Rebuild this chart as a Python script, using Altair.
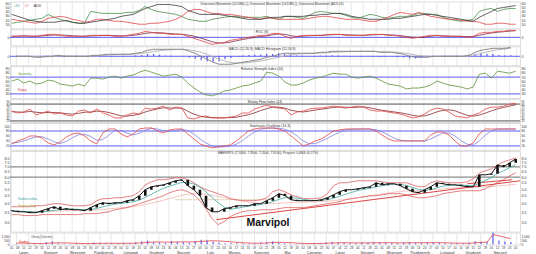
import altair as alt
import pandas as pd

FONT = "Liberation Sans"
W = 512

weeks = pd.date_range("2013-07-01", periods=84, freq="7D")

close = [3.60,3.54,3.54,3.49,3.49,3.60,3.71,3.82,3.65,3.71,
         3.65,3.65,3.60,3.77,3.94,4.06,4.00,4.06,4.06,4.19,
         4.25,4.52,4.95,5.18,5.26,5.33,5.50,5.67,5.76,5.26,
         4.95,4.52,3.77,3.54,3.54,3.71,3.77,3.88,3.88,3.88,
         4.00,4.00,4.19,4.38,4.66,4.52,4.25,4.19,4.19,4.19,
         4.19,4.25,4.38,4.58,4.80,4.95,4.95,5.02,5.10,5.18,
         5.50,5.33,5.42,5.42,5.26,5.02,4.80,4.73,4.95,5.18,
         5.50,5.42,5.33,5.33,5.26,5.18,5.18,6.21,6.21,6.30,
         7.22,7.01,7.45,7.91]
first_open = 3.62
upper = [3.82,3.82,3.82,3.82,3.88,3.88,3.94,4.00,4.00,3.94,
         3.88,3.88,3.88,3.94,4.19,4.32,4.32,4.38,4.38,4.45,
         4.52,4.80,5.33,5.58,5.76,5.76,5.84,5.93,5.93,5.76,
         5.50,5.18,4.95,4.80,4.66,4.52,4.32,4.25,4.19,4.19,
         4.19,4.25,4.38,4.80,4.95,4.80,4.58,4.45,4.32,4.32,
         4.32,4.38,4.66,5.26,5.50,5.50,5.58,5.67,5.67,5.67,
         5.67,5.58,5.50,5.50,5.50,5.50,5.33,5.18,5.18,5.50,
         5.67,5.58,5.50,5.50,5.50,5.58,5.84,6.40,6.60,6.80,
         7.22,7.56,7.79,8.03]
lower = [3.39,3.39,3.34,3.34,3.34,3.39,3.39,3.39,3.39,3.39,
         3.39,3.39,3.44,3.44,3.44,3.49,3.54,3.65,3.71,3.77,
         3.88,4.00,4.12,4.25,4.38,4.52,4.73,4.87,4.95,4.80,
         4.58,4.19,3.71,3.19,2.91,3.05,3.29,3.44,3.54,3.60,
         3.60,3.65,3.65,3.65,3.71,3.77,3.77,3.77,3.77,3.82,
         3.88,3.94,4.00,4.06,4.12,4.25,4.32,4.38,4.45,4.52,
         4.52,4.58,4.66,4.66,4.66,4.58,4.45,4.38,4.38,4.45,
         4.52,4.66,4.73,4.80,4.87,4.87,4.87,4.87,5.02,5.26,
         5.50,5.76,6.11,6.40]
ma_short = [3.58,3.57,3.56,3.54,3.52,3.53,3.57,3.62,3.66,3.68,
            3.68,3.67,3.65,3.66,3.72,3.82,3.90,3.98,4.02,4.06,
            4.12,4.22,4.40,4.62,4.85,5.05,5.22,5.38,5.52,5.52,
            5.40,5.15,4.78,4.40,4.05,3.80,3.68,3.72,3.80,3.85,
            3.90,3.95,4.02,4.12,4.28,4.38,4.40,4.35,4.28,4.22,
            4.20,4.21,4.26,4.35,4.48,4.62,4.76,4.88,4.98,5.05,
            5.18,5.26,5.32,5.38,5.36,5.28,5.12,4.98,4.90,4.95,
            5.10,5.22,5.30,5.33,5.32,5.28,5.24,5.45,5.70,5.95,
            6.35,6.60,6.92,7.25]
ma_long = [3.55,3.55,3.55,3.55,3.55,3.55,3.56,3.57,3.58,3.59,
           3.60,3.60,3.61,3.62,3.64,3.67,3.70,3.73,3.76,3.79,
           3.83,3.88,3.95,4.03,4.12,4.22,4.33,4.44,4.55,4.62,
           4.66,4.66,4.61,4.54,4.46,4.38,4.30,4.23,4.16,4.10,
           4.05,4.02,4.00,4.00,4.02,4.05,4.07,4.09,4.10,4.11,
           4.12,4.14,4.16,4.19,4.23,4.28,4.33,4.38,4.44,4.50,
           4.57,4.64,4.70,4.76,4.81,4.85,4.88,4.90,4.92,4.95,
           4.98,5.01,5.04,5.07,5.10,5.12,5.14,5.16,5.18,5.20,
           5.24,5.28,5.33,5.38]
adx = [33.8,29.0,24.3,19.5,17.1,14.8,14.8,14.8,17.1,19.5,
       14.8,12.4,12.4,14.8,17.1,19.5,21.9,24.3,29.0,31.4,
       33.8,40.9,48.1,52.8,57.6,57.6,57.6,55.2,52.8,43.3,
       38.6,33.8,33.8,33.8,33.8,31.4,29.0,26.7,24.3,21.9,
       21.9,21.9,24.3,26.7,26.7,29.0,29.0,29.0,29.0,31.4,
       31.4,33.8,33.8,36.2,36.2,33.8,29.0,26.7,24.3,21.9,
       21.9,21.9,21.9,24.3,24.3,26.7,29.0,31.4,33.8,33.8,
       31.4,29.0,26.7,24.3,21.9,19.5,17.1,26.7,33.8,40.9,
       48.1,50.5,52.8,55.2]
pdi = [12.4,14.8,17.1,19.5,21.9,24.3,33.8,26.7,21.9,17.1,
       14.8,12.4,12.4,40.9,38.6,36.2,36.2,36.2,36.2,38.6,
       38.6,43.3,52.8,45.7,40.9,38.6,36.2,33.8,29.0,21.9,
       19.5,17.1,17.1,21.9,24.3,26.7,29.0,29.0,26.7,26.7,
       26.7,26.7,29.0,24.3,21.9,29.0,29.0,26.7,24.3,31.4,
       38.6,40.9,38.6,36.2,36.2,31.4,26.7,24.3,29.0,33.8,
       31.4,26.7,24.3,26.7,29.0,29.0,31.4,36.2,36.2,33.8,
       33.8,26.7,21.9,19.5,17.1,19.5,21.9,40.9,45.7,48.1,
       40.9,45.7,48.1,48.1]
mdi = [21.9,19.5,17.1,14.8,12.4,17.1,24.3,26.7,29.0,26.7,
       21.9,19.5,14.8,17.1,21.9,21.9,19.5,17.1,17.1,14.8,
       12.4,10.0,10.0,12.4,12.4,14.8,17.1,21.9,29.0,40.9,
       45.7,45.7,40.9,36.2,36.2,33.8,33.8,31.4,29.0,26.7,
       24.3,21.9,26.7,24.3,21.9,21.9,21.9,21.9,21.9,24.3,
       26.7,29.0,29.0,26.7,24.3,21.9,21.9,21.9,19.5,17.1,
       17.1,21.9,26.7,33.8,38.6,36.2,33.8,38.6,33.8,29.0,
       26.7,24.3,21.9,21.9,19.5,17.1,17.1,14.8,10.0,10.0,
       12.4,12.4,10.0,10.0]
roc = [1.25,1.25,2.5,1.25,1.25,2.5,3.75,3.75,2.5,1.25,
       1.25,1.25,1.25,2.5,2.5,2.5,2.5,1.25,1.25,2.5,
       3.75,5,7.5,6.25,5,5,3.75,3.75,3.75,1.25,
       -1.25,-3.75,-6.25,-8.75,-7.5,-6.25,-3.75,-2.5,-1.25,0,
       1.25,2.5,2.5,5,5,1.25,-1.25,1.25,2.5,2.5,
       2.5,2.5,3.75,3.75,3.75,2.5,2.5,2.5,2.5,3.75,
       3.75,3.75,2.5,2.5,1.25,0,-1.25,0,1.25,2.5,
       2.5,1.25,1.25,1.25,1.25,0,1.25,5,6.25,6.25,
       7.5,7.5,8.75,8.75]
roc_sig = [1.5,1.5,1.6,1.6,1.5,1.8,2.4,2.9,3.0,2.6,
           2.0,1.6,1.4,1.7,2.0,2.3,2.4,2.1,1.8,1.9,
           2.6,3.6,5.0,5.8,5.9,5.5,4.8,4.2,3.8,2.9,
           1.5,-0.6,-3.0,-5.5,-7.0,-7.2,-6.0,-4.3,-2.8,-1.4,
           -0.2,1.0,1.8,3.2,4.2,3.8,2.0,1.0,1.4,2.0,
           2.4,2.5,2.9,3.3,3.6,3.3,2.9,2.6,2.5,2.9,
           3.3,3.6,3.2,2.8,2.1,1.2,0.2,-0.2,0.4,1.4,
           2.1,2.0,1.6,1.4,1.3,0.9,0.9,2.6,4.2,5.4,
           6.4,7.0,7.8,8.3]
macd = [0,0,0,-0.04,-0.04,0,0,0.04,0,0,
        0,0,0,0.04,0.04,0.08,0.08,0.08,0.08,0.08,
        0.12,0.16,0.24,0.28,0.28,0.28,0.28,0.28,0.28,0.2,
        0.12,0,-0.12,-0.24,-0.32,-0.32,-0.32,-0.28,-0.24,-0.2,
        -0.16,-0.12,-0.04,0,0.08,0.12,0.12,0.12,0.12,0.12,
        0.12,0.16,0.16,0.2,0.2,0.2,0.2,0.2,0.2,0.2,
        0.2,0.16,0.16,0.16,0.12,0.08,0,-0.04,-0.04,-0.04,
        0,0,0,0,0,0,0.04,0.16,0.24,0.28,
        0.32,0.32,0.32,0.36]
macd_sig = [0,0,0,-0.01,-0.02,-0.02,-0.01,0.01,0.01,0.01,
            0,0,0,0.01,0.02,0.04,0.06,0.07,0.08,0.08,
            0.09,0.11,0.15,0.19,0.22,0.25,0.26,0.27,0.28,0.26,
            0.22,0.16,0.08,-0.02,-0.12,-0.2,-0.25,-0.27,-0.27,-0.25,
            -0.22,-0.19,-0.14,-0.09,-0.04,0.02,0.06,0.09,0.1,0.11,
            0.12,0.13,0.14,0.16,0.17,0.18,0.19,0.19,0.2,0.2,
            0.2,0.19,0.18,0.17,0.16,0.13,0.09,0.05,0.02,0,
            -0.01,-0.01,0,0,0,0,0.01,0.06,0.12,0.18,
            0.23,0.27,0.29,0.32]
macd_hist = [0,0,0,-0.03,-0.02,0.02,0.01,0.03,-0.01,-0.01,
             0,0,0,0.03,0.02,0.04,0.02,0.01,0,0,
             0.03,0.05,0.09,0.09,0.06,0.03,0.02,0.01,0,-0.06,
             -0.1,-0.16,-0.2,-0.22,-0.2,-0.12,-0.07,-0.01,0.03,0.05,
             0.06,0.07,0.1,0.09,0.12,0.1,0.06,0.03,0.02,0.01,
             0,0.03,0.02,0.04,0.03,0.02,0.01,0.01,0,0,
             0,-0.03,-0.02,-0.01,-0.04,-0.05,-0.09,-0.09,-0.06,-0.04,
             0.01,0.01,0,0,0,0,0.03,0.1,0.12,0.1,
             0.09,0.05,0.03,0.04]
rsi = [60.6,65.3,55.9,60.6,53.5,55.9,62.9,60.6,53.5,51.2,
       48.8,53.5,48.8,67.6,67.6,65.3,70,72.4,67.6,72.4,
       74.7,81.8,86.5,81.8,77.1,72.4,74.7,77.1,70,55.9,
       44.1,34.7,27.6,25.3,30,37.1,39.4,44.1,48.8,51.2,
       55.9,60.6,81.8,79.4,72.4,58.2,51.2,51.2,55.9,62.9,
       67.6,70,74.7,79.4,77.1,77.1,70,67.6,70,72.4,
       67.6,60.6,53.5,51.2,48.8,41.8,44.1,44.1,46.5,51.2,
       60.6,55.9,51.2,48.8,46.5,41.8,46.5,77.1,79.4,67.6,
       84.1,81.8,79.4,84.1]
mfi = [55.3,48.2,51.8,62.4,41.2,48.2,55.3,44.7,48.2,41.2,
       37.6,55.3,58.8,48.2,62.4,48.2,41.2,30.6,30.6,41.2,
       48.2,44.7,65.9,62.4,65.9,72.9,58.8,69.4,65.9,30.6,
       27.1,34.1,37.6,30.6,30.6,30.6,34.1,37.6,48.2,48.2,
       62.4,69.4,76.5,69.4,65.9,62.4,41.2,51.8,55.3,62.4,
       65.9,65.9,69.4,72.9,69.4,65.9,69.4,72.9,69.4,58.8,
       55.3,55.3,51.8,48.2,44.7,37.6,30.6,34.1,44.7,58.8,
       65.9,62.4,51.8,37.6,34.1,30.6,41.2,48.2,62.4,69.4,
       69.4,72.9,80,83.5]
mfi_sig = [53,52,51,54,51,49,50,50,49,46,
           44,47,51,52,55,54,50,44,38,37,
           40,44,52,58,63,67,66,66,66,55,
           44,37,33,32,31,31,32,33,38,42,
           49,57,64,70,69,66,58,54,52,55,
           59,62,65,68,70,69,68,69,70,67,
           62,58,55,52,49,45,40,37,38,44,
           52,58,60,56,48,40,37,41,48,56,
           63,68,73,78]
stoch_k = [28,40,48,60,60,52,32,24,36,56,
           68,72,60,40,28,72,88,88,68,56,
           68,88,92,92,80,72,84,88,88,68,
           48,28,20,12,16,20,24,40,60,80,
           88,92,92,92,88,80,60,40,20,28,
           40,48,64,80,84,88,88,88,88,88,
           80,64,48,40,40,40,40,40,40,64,
           76,76,64,40,20,20,32,68,88,88,
           88,88,88,88]
stoch_d = [32,34,40,49,56,57,48,36,30,38,
           53,65,67,58,43,46,63,83,82,71,
           64,71,83,91,88,81,79,81,87,82,
           68,48,32,20,16,16,20,27,41,60,
           76,87,91,92,91,87,76,60,40,29,
           29,39,51,64,75,84,87,88,88,88,
           85,77,64,51,43,40,40,40,40,48,
           60,72,72,60,41,27,24,40,63,81,
           88,88,88,88]
volume = [120,80,60,150,90,300,420,180,100,90,
          70,110,90,250,200,150,120,180,160,140,
          260,380,520,300,260,200,450,350,300,260,
          420,600,500,380,260,180,150,170,140,120,
          160,250,300,420,230,150,110,100,120,130,
          160,180,260,310,240,200,170,180,260,210,
          300,250,220,200,180,260,280,240,210,250,
          270,200,160,150,140,160,220,420,350,300,
          1600,500,380,320]
volume_ma = [200,180,160,140,130,150,190,220,210,190,
             160,140,120,140,160,170,160,160,165,160,
             180,220,280,320,330,310,300,320,340,330,
             350,400,450,470,450,400,340,280,230,190,
             170,180,210,250,280,270,240,190,150,130,
             130,150,170,200,220,230,220,210,210,210,
             220,230,240,230,220,210,220,230,230,240,
             240,240,220,200,180,170,170,220,270,300,
             1250,1100,900,750]

trend_dates = ["2014-02-22", "2015-02-07"]
trend_prices = [3.14, 5.67]
trend2_dates = ["2014-12-08", "2015-01-29"]
trend2_prices = [5.42, 5.76]
fib_dates = ["2014-01-06", "2014-04-21"]
fib_prices = [4.25, 4.25]
price_levels = [6.0, 7.0]

month_names = ["Lipiec", "Sierpień", "Wrzesień", "Październik", "Listopad", "Grudzień",
               "Styczeń", "Luty", "Marzec", "Kwiecień", "Maj", "Czerwiec",
               "Lipiec", "Sierpień", "Wrzesień", "Październik", "Listopad", "Grudzień",
               "Styczeń"]
month_mid = pd.date_range("2013-07-01", periods=19, freq="MS") + pd.Timedelta(days=14)

df = pd.DataFrame({
    "date": weeks, "close": close, "open": [first_open] + close[:-1],
    "upper": upper, "lower": lower, "ma_s": ma_short, "ma_l": ma_long,
    "adx": adx, "pdi": pdi, "mdi": mdi, "roc": roc, "roc_sig": roc_sig,
    "macd": macd, "macd_sig": macd_sig, "hist": macd_hist, "rsi": rsi,
    "mfi": mfi, "mfi_sig": mfi_sig, "k": stoch_k, "d": stoch_d,
    "vol": volume, "vol_ma": volume_ma,
})

xscale = alt.Scale(domain=[alt.DateTime(year=2013, month=6, date=29),
                           alt.DateTime(year=2015, month=2, date=7)])
grid_axis = alt.Axis(grid=True, labels=False, ticks=False, domain=False, title=None,
                     tickCount=alt.TimeIntervalStep(interval="week", step=2),
                     gridColor="#d6d6d6", gridWidth=0.6)


def X(axis=grid_axis):
    return alt.X("date:T", scale=xscale, axis=axis)


def axis_kw(values, fmt, ext, orient, size):
    kw = dict(orient=orient, values=values, title=None, labelFontSize=size, labelColor="#333",
              labelPadding=1, ticks=False, domain=False, grid=False, labelOverlap=False,
              minExtent=ext, maxExtent=ext, labelFont=FONT)
    if fmt:
        kw["format"] = fmt
    return alt.Axis(**kw)


def ylayers(field, ys, values, fmt=None, size=3.6):
    l = alt.Chart(df).mark_point(opacity=0).encode(
        x=X(), y=alt.Y(field + ":Q", scale=ys, axis=axis_kw(values, fmt, 9, "left", size)))
    r = alt.Chart(df).mark_point(opacity=0).encode(
        x=X(), y=alt.Y(field + ":Q", scale=ys, axis=axis_kw(values, fmt, 15, "right", size)))
    return [l, r]


def line(field, ys, color, width=0.8, data=None, dash=None):
    kw = dict(color=color, strokeWidth=width, clip=True)
    if dash:
        kw["strokeDash"] = dash
    return alt.Chart(df if data is None else data).mark_line(**kw).encode(
        x=X(), y=alt.Y(field + ":Q", scale=ys, axis=None))


def hrule(values, ys, color, width=1.0):
    return alt.Chart(pd.DataFrame({"v": values})).mark_rule(color=color, strokeWidth=width).encode(
        y=alt.Y("v:Q", scale=ys, axis=None))


def label(text, x, y, size=3.6, color="#333", align="left", weight="normal"):
    return alt.Chart(pd.DataFrame({"t": [text]})).mark_text(
        fontSize=size, color=color, align=align, baseline="middle", fontWeight=weight, font=FONT
    ).encode(x=alt.value(x), y=alt.value(y), text="t:N")


BLUE = "#5a5af0"
RED = "#e04545"

# Panel 1: DMI
s1 = alt.Scale(domain=[0, 65], nice=False, zero=False)
p1 = alt.layer(
    *ylayers("adx", s1, [10, 20, 30, 40, 50, 60]),
    line("pdi", s1, "#4c8f4c"), line("mdi", s1, RED), line("adx", s1, "#3a3a3a"),
    label("+DI", 4, 5, color="#3a9aa0"), label("-DI", 14, 5, color="#e07070"),
    label("ADX", 24, 5, color="#333"),
    label("Directional Movement (14,DMI(+)), Directional Movement (14,DMI(-)), Directional Movement (ADX,14)",
          263, 2.5, size=3.2, align="center"),
).resolve_axis(y="independent").properties(width=W, height=27)

# Panel 2: ROC
s2 = alt.Scale(domain=[-10, 10], nice=False, zero=False)
p2 = alt.layer(
    *ylayers("roc", s2, [0]),
    hrule([0], s2, BLUE, 1.0),
    line("roc_sig", s2, "#7a2a4a"), line("roc", s2, RED),
    label("ROC (9)", 253, 2.5, size=3.4, align="center"),
).resolve_axis(y="independent").properties(width=W, height=16)

# Panel 3: MACD
s3 = alt.Scale(domain=[-0.36, 0.40], nice=False, zero=False)
p3 = alt.layer(
    *ylayers("macd", s3, [0]),
    alt.Chart(df).mark_bar(color=BLUE, width=1.2, clip=True).encode(
        x=X(), y=alt.Y("hist:Q", scale=s3, axis=None), y2=alt.datum(0)),
    hrule([0], s3, BLUE, 1.0),
    line("macd_sig", s3, "#b8b8b8", 1.0), line("macd", s3, "#8a8a8a", 1.0),
    label("MACD (12,26,9), MACD Histogram (12,26,9)", 253, 2.5, size=3.4, align="center"),
).resolve_axis(y="independent").properties(width=W, height=19)

# Panel 4: RSI
s4 = alt.Scale(domain=[20, 96], nice=False, zero=False)
p4 = alt.layer(
    *ylayers("rsi", s4, [30, 40, 50, 60, 70, 80, 90]),
    hrule([70, 30], s4, BLUE, 1.0),
    line("rsi", s4, "#5f8f3a"),
    label("Sprzedaj", 8, 8, size=3.4, color="#6a9a40"),
    label("Kupuj", 8, 24, size=3.4, color="#e03030"),
    label("Relative Strength Index (14)", 253, 2.5, size=3.4, align="center"),
).resolve_axis(y="independent").properties(width=W, height=32)

# Panel 5: Money Flow Index
s5 = alt.Scale(domain=[16, 98], nice=False, zero=False)
p5 = alt.layer(
    *ylayers("mfi", s5, [20, 30, 40, 50, 60, 70, 80, 90], size=2.6),
    hrule([80, 20], s5, "#9a9a9a", 1.6),
    line("mfi_sig", s5, "#8a2a2a"), line("mfi", s5, RED),
    label("Money Flow Index (14)", 256, 2.5, size=3.4, align="center"),
).resolve_axis(y="independent").properties(width=W, height=23)

# Panel 6: Stochastic
s6 = alt.Scale(domain=[4, 112], nice=False, zero=False)
p6 = alt.layer(
    *ylayers("k", s6, [20, 40, 60, 80, 100], size=3.2),
    hrule([80, 20], s6, BLUE, 1.0),
    line("d", s6, "#8080e8"), line("k", s6, RED),
    label("Stochastic Oscillator (14,3)", 261, 2.5, size=3.4, align="center"),
).resolve_axis(y="independent").properties(width=W, height=27)

# Panel 7: Price
s7 = alt.Scale(type="log", domain=[2.617, 8.93], nice=False)
trend_df = pd.DataFrame({"date": pd.to_datetime(trend_dates), "p": trend_prices})
trend2_df = pd.DataFrame({"date": pd.to_datetime(trend2_dates), "p": trend2_prices})
fib_df = pd.DataFrame({"date": pd.to_datetime(fib_dates), "p": fib_prices})
p7 = alt.layer(
    *ylayers("close", s7, [3.0, 3.5, 4.0, 4.5, 5.0, 5.5, 6.0, 6.5, 7.0, 7.5, 8.0], ".1f"),
    hrule(price_levels, s7, "#8a8a8a", 1.3),
    line("p", s7, "#c8b070", 0.8, data=fib_df, dash=[1.5, 1]),
    line("ma_l", s7, "#f0b8b0", 0.8),
    line("upper", s7, "#e06060", 0.8), line("lower", s7, "#e06060", 0.8),
    line("p", s7, "#d83030", 0.9, data=trend_df),
    line("p", s7, "#d83030", 0.9, data=trend2_df),
    line("ma_s", s7, "#40a8a0", 0.8),
    alt.Chart(df).mark_rule(color="#111", strokeWidth=2.6, clip=True).encode(
        x=X(), y=alt.Y("open:Q", scale=s7, axis=None), y2="close:Q"),
    line("close", s7, "#111", 1.0),
    label("Średnia krótka", 8, 48, size=3.0, color="#30a0a0"),
    label("Średnia długa", 8, 55, size=3.0, color="#b0a040"),
    label("MARVIPOL (7,3300, 7,9500, 7,2000, 7,9100), Przyrost: 0,4600 (6,17%)",
          259, 2.5, size=3.2, align="center"),
    label("Marvipol", 259, 72, size=10.5, color="#111", align="center", weight="bold"),
).resolve_axis(y="independent").properties(width=W, height=81)

# Panel 8: Volume
s8 = alt.Scale(domain=[0, 1500], nice=False, zero=True)
p8 = alt.layer(
    *ylayers("vol", s8, [0, 500, 1000], size=3.2),
    alt.Chart(df).mark_bar(color="#6a6af5", width=1.3, clip=True).encode(
        x=X(), y=alt.Y("vol:Q", scale=s8, axis=None)),
    line("vol_ma", s8, RED, 0.8),
    label("Obroty (Volume)", 21, 4, size=3.0, color="#555"),
    label("Średnia", 9, 9, size=3.0, color="#e03030"),
).resolve_axis(y="independent").properties(width=W, height=12)

# Bottom strip: day numbers and month names
months_df = pd.DataFrame({"date": month_mid, "name": month_names})
days = alt.Chart(df).mark_text(fontSize=3.0, color="#333", font=FONT, baseline="middle").encode(
    x=alt.X("date:T", scale=xscale, axis=None), y=alt.value(2.5),
    text=alt.Text("date:T", format="%d"))
months = alt.Chart(months_df).mark_text(fontSize=3.8, color="#333", font=FONT, baseline="middle").encode(
    x=alt.X("date:T", scale=xscale, axis=None), y=alt.value(7), text="name:N")
p9 = alt.layer(days, months).properties(
    width=W, height=9, view=alt.ViewBackground(stroke="transparent"))

chart = alt.vconcat(p1, p2, p3, p4, p5, p6, p7, p8, p9, spacing=1, padding=0,
                    bounds="flush").configure_view(
    stroke="#808080", strokeWidth=0.9
).configure(font=FONT, background="white")

chart.save("out.html", embed_options={"renderer": "svg", "actions": False})
